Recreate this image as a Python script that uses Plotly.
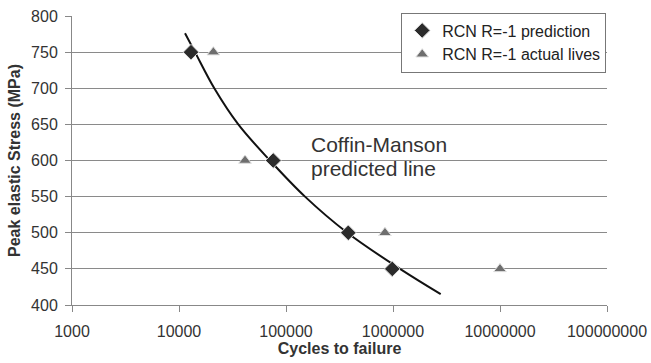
import plotly.graph_objects as go

# Data
pred_cycles = [12950, 76000, 382000, 984000]
pred_stress = [750, 600, 500, 450]
actual_cycles = [20950, 41400, 841000, 10000000]
actual_stress = [750, 600, 500, 450]
curve_cycles = [11380, 14110, 21370, 35830, 70880, 150500, 374000, 1163000, 2791000]
curve_stress = [776, 750, 700, 650, 600, 550, 500, 450, 415]
x_ticks = [1000, 10000, 100000, 1000000, 10000000, 100000000]
y_ticks = [400, 450, 500, 550, 600, 650, 700, 750, 800]

FONT = "Liberation Sans, Arial, sans-serif"

fig = go.Figure()
fig.add_trace(go.Scatter(x=curve_cycles, y=curve_stress, mode="lines",
                         line=dict(color="#111111", width=2, shape="spline", smoothing=1.0),
                         showlegend=False, hoverinfo="skip"))
fig.add_trace(go.Scatter(x=pred_cycles, y=pred_stress, mode="markers",
                         name="RCN R=-1 prediction",
                         marker=dict(symbol="diamond", size=12, color="#2b2b2b",
                                     line=dict(color="#dddddd", width=1))))
fig.add_trace(go.Scatter(x=actual_cycles, y=actual_stress, mode="markers",
                         name="RCN R=-1 actual lives",
                         marker=dict(symbol="triangle-up", size=11, color="#6e6e6e",
                                     line=dict(color="#e0e0e0", width=1))))

fig.add_annotation(x=0.443, y=0.557, xref="paper", yref="paper",
                   text="Coffin-Manson", showarrow=False,
                   xanchor="left", yanchor="middle", align="left",
                   font=dict(family=FONT, size=21, color="#333333"))
fig.add_annotation(x=0.443, y=0.474, xref="paper", yref="paper",
                   text="predicted line", showarrow=False,
                   xanchor="left", yanchor="middle", align="left",
                   font=dict(family=FONT, size=21, color="#333333"))

fig.update_layout(
    width=651, height=363,
    margin=dict(l=72, r=44, t=16, b=58, autoexpand=False),
    paper_bgcolor="white", plot_bgcolor="white",
    font=dict(family=FONT, size=16, color="#333333"),
    legend=dict(x=0.9985, y=1.012, xanchor="right", yanchor="top",
                bordercolor="#777777", borderwidth=1, bgcolor="white",
                font=dict(size=16, color="#222222"), itemwidth=30,
                tracegroupgap=0),
    xaxis=dict(type="log", range=[3, 8], tickvals=x_ticks,
               ticktext=[str(v) for v in x_ticks],
               showgrid=False, showline=True, linecolor="#888888", linewidth=1,
               ticks="outside", ticklen=6, tickcolor="#888888",
               ticklabelstandoff=6, automargin=False,
               title=dict(text="<b>Cycles to failure</b>", font=dict(size=16, color="#333333"),
                          standoff=2),
               zeroline=False),
    yaxis=dict(range=[400, 800], tickvals=y_ticks,
               showgrid=True, gridcolor="#8a8a8a", gridwidth=1,
               showline=True, linecolor="#888888", linewidth=1,
               ticks="outside", ticklen=6, tickcolor="#888888",
               ticklabelstandoff=4, automargin=False,
               title=dict(text="<b>Peak elastic Stress (MPa)</b>", font=dict(size=16, color="#333333"),
                          standoff=6),
               zeroline=False),
)

fig.write_html("out.html")
